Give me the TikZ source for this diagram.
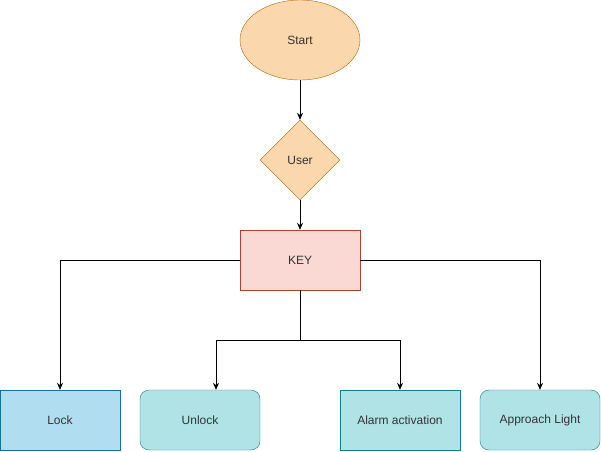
\documentclass[tikz,border=0pt]{standalone}
\usepackage{fontspec}
\setmainfont{Liberation Sans}
\usetikzlibrary{shapes.geometric,arrows.meta}
\definecolor{orfill}{HTML}{FAD7AC}
\definecolor{orline}{HTML}{B46504}
\definecolor{rdfill}{HTML}{FAD9D5}
\definecolor{rdline}{HTML}{AE4132}
\definecolor{blfill}{HTML}{B1DDF0}
\definecolor{blline}{HTML}{10739E}
\definecolor{tlfill}{HTML}{B0E3E6}
\definecolor{tlline}{HTML}{0E8088}
\tikzset{
  lbl/.style={font=\fontsize{12}{14}\selectfont, text=black!80, inner sep=0pt},
  startbox/.style={lbl, ellipse, draw=orline, fill=orfill, minimum width=120pt, minimum height=80pt},
  userbox/.style={lbl, diamond, draw=orline, fill=orfill, minimum width=80pt, minimum height=80pt},
  keybox/.style={lbl, draw=rdline, fill=rdfill, minimum width=120pt, minimum height=60pt},
  lockbox/.style={lbl, draw=blline, fill=blfill, minimum width=120pt, minimum height=60pt},
  tealbox/.style={lbl, draw=tlline, fill=tlfill, minimum width=120pt, minimum height=60pt},
  roundbox/.style={tealbox, rounded corners=9pt},
  link/.style={draw=black, line width=0.8pt, -{Stealth[length=7pt,width=6pt]}}
}
\begin{document}
\begin{tikzpicture}[x=1pt,y=-1pt]
\useasboundingbox (0,0) rectangle (601,451);
\node[startbox] (start) at (300,40) {Start};
\node[userbox] (user) at (300,160) {User};
\node[keybox] (key) at (300,260) {KEY};
\node[lockbox] (lock) at (60,420) {Lock};
\node[roundbox] (unlock) at (200,420) {Unlock};
\node[tealbox] (alarm) at (400,420) {Alarm activation};
\node[roundbox] (light) at (540,420) {Approach Light};
\coordinate (split) at (300,340);
%links
\draw[link] (start) -- (user);
\draw[link] (user) -- (key);
\draw[link] (key.west) -| (lock.north);
\draw[link] (key.east) -| (light.north);
\draw[line width=0.8pt] (key.south) -- (split);
\draw[link] (split) -| ([xshift=16pt]unlock.north);
\draw[link] (split) -| (alarm.north);
\end{tikzpicture}
\end{document}
